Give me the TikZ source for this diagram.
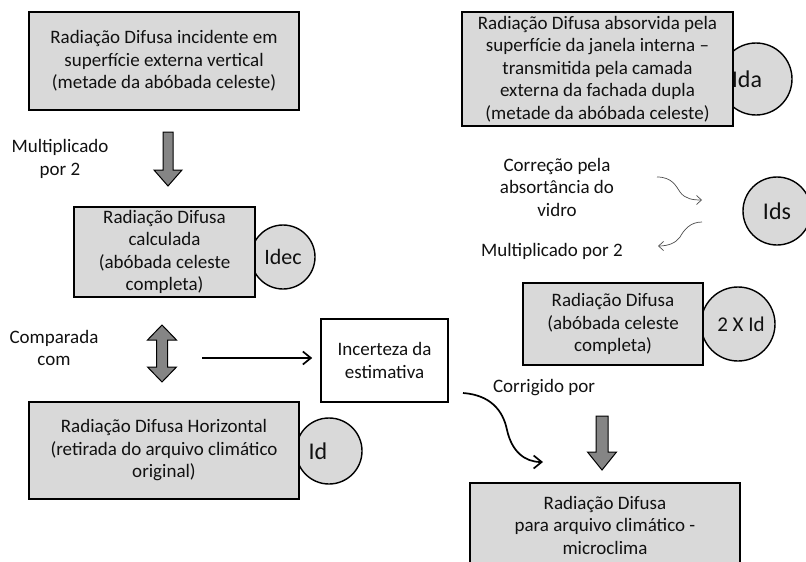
\documentclass[tikz,border=0pt]{standalone}
\usepackage{fontspec}
\setmainfont{Carlito}
\usetikzlibrary{arrows.meta}
\definecolor{boxgray}{HTML}{D9D9D9}
\definecolor{arrgray}{HTML}{858585}
\definecolor{txt}{HTML}{111111}
\begin{document}
\begin{tikzpicture}[x=1pt,y=-1pt,
  box/.style={draw=black, line width=1.6pt, fill=boxgray, align=center, inner sep=0pt, text=txt, font=\fontsize{19}{22.5}\selectfont},
  circ/.style={circle, draw=black, line width=1.4pt, fill=boxgray, inner sep=0pt, text=txt, font=\fontsize{24}{28}\selectfont},
  lbl/.style={align=center, inner sep=0pt, text=txt, font=\fontsize{19}{22.5}\selectfont},
  blk/.style={line width=1.7pt, -{Straight Barb[length=8pt,width=13pt]}},
  squig/.style={line width=0.7pt, draw=black!70, -{Straight Barb[length=5pt,width=9pt]}},
  blockarrow/.style={fill=arrgray, draw=black, line width=1pt, line join=miter}]
\path[use as bounding box] (0,0) rectangle (806,562);
\clip (0,0) rectangle (806,562);

% circles (behind boxes)
\node[circ, minimum size=64pt, font=\fontsize{22}{26}\selectfont] (idec) at (283,257) {Idec};
\node[circ, minimum size=66pt] (id) at (329,451) {Id\hspace*{22pt}};
\node[circ, minimum size=72pt] (ida) at (756,79) {Ida\hspace*{18pt}};
\node[circ, minimum size=68pt] (ids) at (777,211) {Ids};
\node[circ, minimum size=74pt, font=\fontsize{21}{25}\selectfont] (twoid) at (738,324) {\hspace*{6pt}2 X Id};

% boxes
\node[box, minimum width=270pt, minimum height=98pt] (b1) at (164,61)
  {Radiação Difusa incidente em\\superfície externa vertical\\(metade da abóbada celeste)};
\node[box, minimum width=181pt, minimum height=90pt] (b2) at (164.5,252)
  {Radiação Difusa\\calculada\\(abóbada celeste\\completa)};
\node[box, minimum width=270pt, minimum height=97pt] (b3) at (164,450.5)
  {Radiação Difusa Horizontal\\(retirada do arquivo climático\\original)};
\node[box, fill=white, minimum width=127pt, minimum height=83pt] (inc) at (384.5,360.5)
  {Incerteza da\\estimativa};
\node[box, minimum width=271pt, minimum height=114pt] (b4) at (597.5,69)
  {Radiação Difusa absorvida pela\\superfície da janela interna –\\transmitida pela camada\\externa da fachada dupla\\(metade da abóbada celeste)};
\node[box, minimum width=180pt, minimum height=82pt] (b5) at (613,324)
  {Radiação Difusa\\(abóbada celeste\\completa)};
\node[box, minimum width=270pt, minimum height=84pt] (b6) at (605,525)
  {Radiação Difusa\\para arquivo climático -\\microclima};

% labels
\node[lbl] (l1) at (60,159) {Multiplicado\\por 2};
\node[lbl] (l2) at (54,348) {Comparada\\com};
\node[lbl] (l3) at (557,187) {Correção pela\\absortância do\\vidro};
\node[lbl] (l4) at (552,251) {Multiplicado por 2};
\node[lbl] (l5) at (544,388) {Corrigido por};

% gray block arrows
\draw[blockarrow] (163,132) -- (173,132) -- (173,170) -- (182,170) -- (168,186) -- (154,170) -- (163,170) -- cycle;
\draw[blockarrow] (162,325) -- (176.5,340) -- (167.5,340) -- (167.5,367) -- (176.5,367) -- (162,382)
  -- (147.5,367) -- (156.5,367) -- (156.5,340) -- (147.5,340) -- cycle;
\draw[blockarrow] (596,416) -- (608,416) -- (608,452) -- (616.5,452) -- (602,470) -- (587.5,452) -- (596,452) -- cycle;

% black connectors
\coordinate (cmpstart) at (202,358);
\draw[blk] (cmpstart) -- ([xshift=-8pt]cmpstart -| inc.west);
\coordinate (cs) at (463,393);
\coordinate (ce) at (543,462);
\draw[blk] (cs) .. controls (490,395) and (503,410) .. (507,430)
  .. controls (512,452) and (525,462) .. (ce);

% thin squiggles
\coordinate (s1a) at (657,177);
\coordinate (s1b) at (702,200);
\draw[squig] (s1a) .. controls (672,177) and (676,186) .. (680,192)
  .. controls (685,199) and (693,200) .. (s1b);
\coordinate (s2a) at (702,222);
\coordinate (s2b) at (658,246);
\draw[squig] (s2a) .. controls (690,222) and (684,230) .. (680,237)
  .. controls (676,243) and (668,246) .. (s2b);
\end{tikzpicture}
\end{document}
